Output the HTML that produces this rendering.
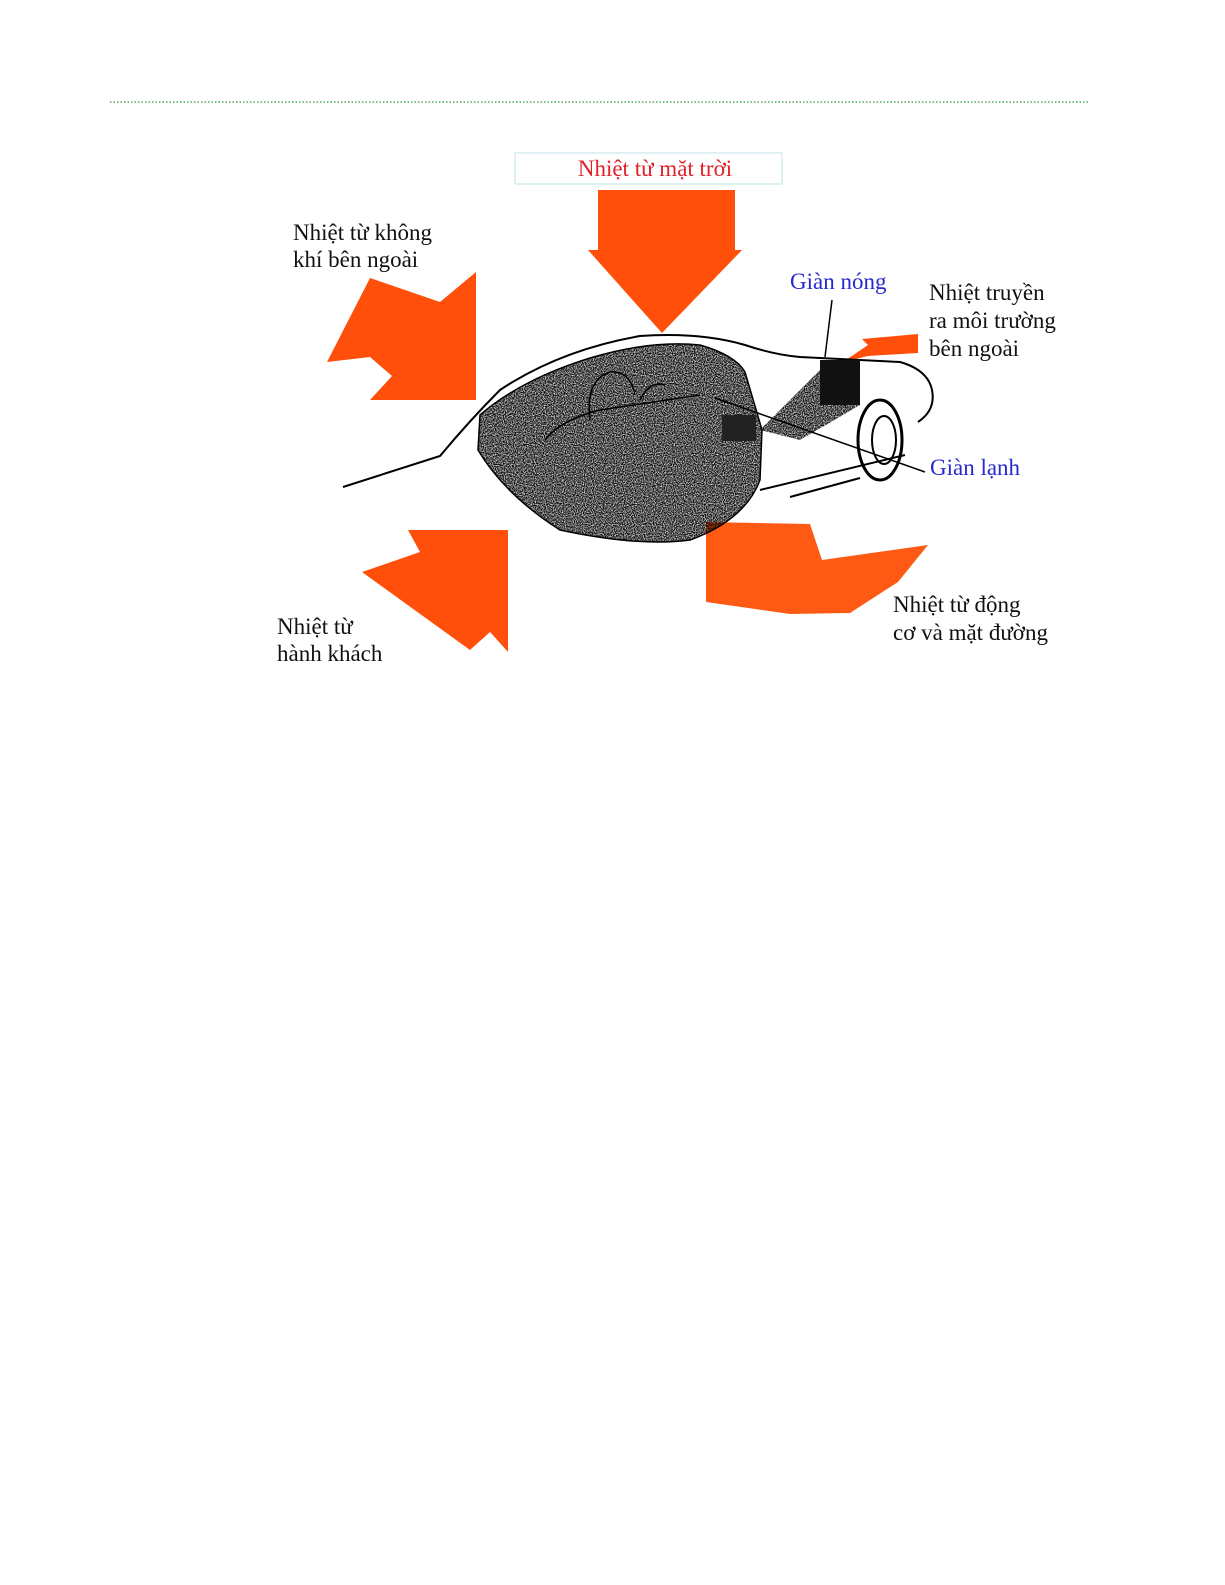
<!DOCTYPE html>
<html><head><meta charset="utf-8"><style>
html,body{margin:0;padding:0;background:#fff;}
svg{display:block}
text{font-family:"Liberation Serif","DejaVu Serif",serif;font-size:23px;}
</style></head><body>
<svg width="1225" height="1585" viewBox="0 0 1225 1585" xmlns="http://www.w3.org/2000/svg">
<defs>
<filter id="st" x="0" y="0" width="100%" height="100%">
<feTurbulence type="fractalNoise" baseFrequency="0.9" numOctaves="1" seed="3" result="n"/>
<feColorMatrix in="n" type="matrix" values="0 0 0 0 0  0 0 0 0 0  0 0 0 0 0  0 0 0 -2.2 1.75"/>
<feComposite in2="SourceGraphic" operator="in"/>
</filter>
</defs>
<line x1="110" y1="102" x2="1088" y2="102" stroke="#2a9a2a" stroke-width="1.3" stroke-dasharray="1.5,2"/>
<rect x="515" y="153" width="267" height="31" fill="none" stroke="#bfe3e6" stroke-width="1"/>
<text x="655" y="176" text-anchor="middle" fill="#e0202a">Nhiệt từ mặt trời</text>
<polygon points="598,190 735,190 735,250 742,250 662,333 588,250 598,250" fill="#ff4f0a"/>
<polygon points="327,362 370,278 440,302 476,272 476,400 370,400 392,376 370,357" fill="#ff4f0a"/>
<polygon points="362,572 420,552 408,530 508,530 508,652 490,632 470,650" fill="#ff4f0a"/>
<polygon points="706,522 810,524 822,560 928,545 898,582 850,613 790,614 706,602" fill="#ff5a14"/>
<polygon points="843,362 868,345 862,339 918,334 918,353 868,356" fill="#ff4f0a"/>
<g fill="none" stroke="#000" stroke-width="2">
<path d="M343,487 L440,456 Q470,420 500,390 Q560,350 640,336 Q700,332 745,345 Q775,355 800,357 L900,362 Q928,370 932,390 Q936,410 918,422"/>
<path d="M760,490 L905,455"/>
<path d="M790,497 L860,478"/>
<ellipse cx="880" cy="440" rx="22" ry="40" stroke-width="3"/>
<ellipse cx="884" cy="440" rx="12" ry="24"/>
</g>
<path d="M480,415 Q520,380 590,358 Q650,340 700,345 Q735,355 745,372 L762,430 L760,480 Q745,520 690,540 Q640,547 560,530 Q505,495 478,450 Z" fill="#222" filter="url(#st)"/>
<path d="M480,415 Q520,380 590,358 Q650,340 700,345 Q735,355 745,372 L762,430 L760,480 Q745,520 690,540 Q640,547 560,530 Q505,495 478,450 Z" fill="none" stroke="#000" stroke-width="1.5"/>
<path d="M545,440 Q560,420 600,410 L700,395 M590,420 Q585,380 610,372 Q630,370 635,395 M640,400 Q650,380 665,385" fill="none" stroke="#000" stroke-width="1.5"/>
<polygon points="760,430 820,370 860,360 860,405 800,440" fill="#bbb" filter="url(#st)"/>
<rect x="820" y="360" width="40" height="45" fill="#111"/>
<rect x="722" y="415" width="34" height="26" fill="#222"/>
<line x1="832" y1="300" x2="825" y2="357" stroke="#000" stroke-width="1.5"/>
<line x1="925" y1="472" x2="715" y2="398" stroke="#000" stroke-width="1.5"/>
<text x="790" y="289" fill="#2828d0">Giàn nóng</text>
<text x="930" y="475" fill="#2828d0">Giàn lạnh</text>
<g fill="#111">
<text x="293" y="240">Nhiệt từ không</text>
<text x="293" y="267">khí bên ngoài</text>
<text x="929" y="300">Nhiệt truyền</text>
<text x="929" y="328">ra môi trường</text>
<text x="929" y="356">bên ngoài</text>
<text x="277" y="634">Nhiệt từ</text>
<text x="277" y="661">hành khách</text>
<text x="893" y="612">Nhiệt từ động</text>
<text x="893" y="640">cơ và mặt đường</text>
</g>
</svg>
</body></html>
